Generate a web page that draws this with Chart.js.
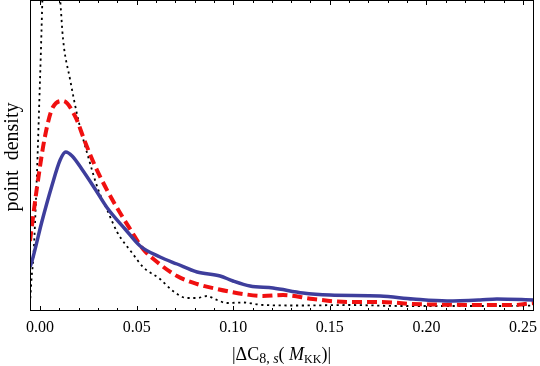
<!DOCTYPE html>
<html>
<head>
<meta charset="utf-8">
<script src="https://cdn.jsdelivr.net/npm/chart.js@4"></script>
<style>
  html, body { margin: 0; padding: 0; background: #fff; }
  #wrap { width: 540px; height: 366px; position: relative; }
</style>
</head>
<body>
<div id="wrap"><canvas id="density-chart" width="540" height="366"></canvas></div>
<script>
// point density curves (x = |dC8,s|, y = density, arbitrary units)
const blueX = [-0.0052, -0.0043, 0.0009, 0.0061, 0.0104, 0.0133, 0.0166, 0.0216, 0.0285, 0.0352, 0.044, 0.0518, 0.0621, 0.0709, 0.0813, 0.0932, 0.0999, 0.1087, 0.1206, 0.1361, 0.1501, 0.176, 0.1931, 0.2107, 0.2277, 0.2365, 0.2557];
const blueY = [4.4, 4.9, 8.9, 12.5, 15.1, 15.9, 15.5, 14.2, 12.2, 10.2, 8.2, 6.5, 5.4, 4.7, 3.9, 3.5, 3.0, 2.5, 2.3, 1.8, 1.6, 1.5, 1.2, 1.0, 1.1, 1.2, 1.1];

const redX = [-0.0052, -0.0017, 0.0026, 0.0067, 0.0119, 0.0181, 0.0233, 0.0285, 0.0352, 0.0424, 0.0466, 0.0533, 0.0606, 0.0709, 0.0813, 0.0916, 0.1051, 0.1154, 0.1258, 0.1413, 0.1589, 0.176, 0.1931, 0.2107, 0.2277, 0.2448, 0.2557];
const redY = [7.0, 12.2, 17.5, 20.4, 21.0, 19.5, 16.9, 14.5, 11.9, 9.5, 8.2, 6.2, 4.9, 3.5, 2.7, 2.2, 1.7, 1.5, 1.6, 1.2, 0.9, 0.9, 0.7, 0.63, 0.6, 0.6, 0.8];

const blackX = [-0.0052, -0.0043, -0.0035, -0.0017, 0.0, 0.0026, 0.0052, 0.0078, 0.0104, 0.0119, 0.0155, 0.0197, 0.0248, 0.03, 0.0352, 0.0399, 0.0481, 0.0533, 0.0621, 0.0688, 0.0761, 0.0813, 0.0864, 0.0916, 0.0968, 0.1051, 0.1154, 0.1346, 0.1605, 0.1863, 0.2122, 0.238, 0.2557];
const blackY = [0.7, 3.5, 5.2, 13.2, 23.2, 38, 40, 37, 31.2, 27.2, 23.2, 19.2, 15.5, 12.2, 9.9, 7.9, 5.7, 4.4, 3.2, 2.0, 1.3, 1.3, 1.5, 1.1, 0.8, 0.85, 0.6, 0.55, 0.6, 0.5, 0.5, 0.5, 0.55];

const xTicks = [0, 0.05, 0.10, 0.15, 0.20, 0.25];
const xMin = -0.0052, xMax = 0.2557;
const yMin = 0, yMax = 31.1;

function toPoints(xs, ys) {
    return xs.map(function(x, i) { return { x: x, y: ys[i] }; });
}

// frame with inward ticks, top and bottom, Mathematica style
const framePlugin = {
    id: 'frame',
    afterDatasetsDraw: function(chart) {
        const ctx = chart.ctx;
        const a = chart.chartArea;
        const xs = chart.scales.x;
        ctx.save();
        ctx.strokeStyle = '#000';
        ctx.lineWidth = 1;
        ctx.strokeRect(Math.round(a.left) + 0.5, Math.round(a.top) + 0.5, Math.round(a.right - a.left) - 1, Math.round(a.bottom - a.top) - 1);
        for (let i = 0; i <= 25; i++) {
            const v = i / 100;
            const px = Math.round(xs.getPixelForValue(v)) + 0.5;
            const len = (i % 5 === 0) ? 5 : 3;
            ctx.beginPath();
            ctx.moveTo(px, a.bottom);
            ctx.lineTo(px, a.bottom - len);
            ctx.moveTo(px, a.top);
            ctx.lineTo(px, a.top + len);
            ctx.stroke();
        }
        ctx.restore();
    },
    afterDraw: function(chart) {
        const ctx = chart.ctx;
        const a = chart.chartArea;
        ctx.save();
        ctx.fillStyle = '#000';
        ctx.textBaseline = 'alphabetic';

        // y label
        ctx.save();
        ctx.translate(18, 157);
        ctx.rotate(-Math.PI / 2);
        ctx.font = '20px "Liberation Serif"';
        ctx.textAlign = 'center';
        ctx.fillText('point  density', 0, 0);
        ctx.restore();

        // x label |ΔC8,s(M_KK)|
        const parts = [
            { t: '|\u0394C', f: '18px "Liberation Serif"', dy: 0 },
            { t: '8', f: '14px "Liberation Serif"', dy: 3 },
            { t: ', ', f: '14px "Liberation Serif"', dy: 3 },
            { t: 's', f: 'italic 14px "Liberation Serif"', dy: 3 },
            { t: '( ', f: '18px "Liberation Serif"', dy: 0 },
            { t: 'M', f: 'italic 18px "Liberation Serif"', dy: 0 },
            { t: 'KK', f: '12px "Liberation Serif"', dy: 3 },
            { t: ')|', f: '18px "Liberation Serif"', dy: 0 }
        ];
        let total = 0;
        parts.forEach(function(p) { ctx.font = p.f; total += ctx.measureText(p.t).width; });
        let x = 281.5 - total / 2;
        const base = 360;
        ctx.textAlign = 'left';
        parts.forEach(function(p) {
            ctx.font = p.f;
            ctx.fillText(p.t, x, base + p.dy);
            x += ctx.measureText(p.t).width;
        });
        ctx.restore();
    }
};

const ctx = document.getElementById('density-chart').getContext('2d');
new Chart(ctx, {
    type: 'line',
    data: {
        datasets: [
            {
                label: 'blue',
                data: toPoints(blueX, blueY),
                borderColor: '#3e3e9c',
                borderWidth: 3.5,
                pointRadius: 0,
                cubicInterpolationMode: 'monotone',
                fill: false
            },
            {
                label: 'red',
                data: toPoints(redX, redY),
                borderColor: '#f01010',
                borderWidth: 4,
                borderDash: [10, 5],
                pointRadius: 0,
                cubicInterpolationMode: 'monotone',
                fill: false
            },
            {
                label: 'black',
                data: toPoints(blackX, blackY),
                borderColor: '#000',
                borderWidth: 1.8,
                borderDash: [2.2, 3.6],
                pointRadius: 0,
                cubicInterpolationMode: 'monotone',
                fill: false
            }
        ]
    },
    options: {
        responsive: false,
        animation: false,
        devicePixelRatio: 1,
        layout: { padding: { left: 30, right: 6, top: 0, bottom: 0 } },
        plugins: {
            legend: { display: false },
            tooltip: { enabled: false }
        },
        scales: {
            x: {
                type: 'linear',
                min: xMin,
                max: xMax,
                afterBuildTicks: function(scale) {
                    scale.ticks = xTicks.map(function(v) { return { value: v }; });
                },
                afterFit: function(scale) {
                    scale.height = 55;
                    scale.paddingLeft = 0;
                    scale.paddingRight = 0;
                },
                grid: { display: false, drawTicks: false },
                border: { display: false },
                ticks: {
                    padding: 7,
                    maxRotation: 0,
                    autoSkip: false,
                    color: '#000',
                    font: { family: 'Liberation Serif', size: 16 },
                    callback: function(v) { return Number(v).toFixed(2); }
                }
            },
            y: {
                type: 'linear',
                display: false,
                min: yMin,
                max: yMax
            }
        }
    },
    plugins: [framePlugin]
});
</script>
</body>
</html>
